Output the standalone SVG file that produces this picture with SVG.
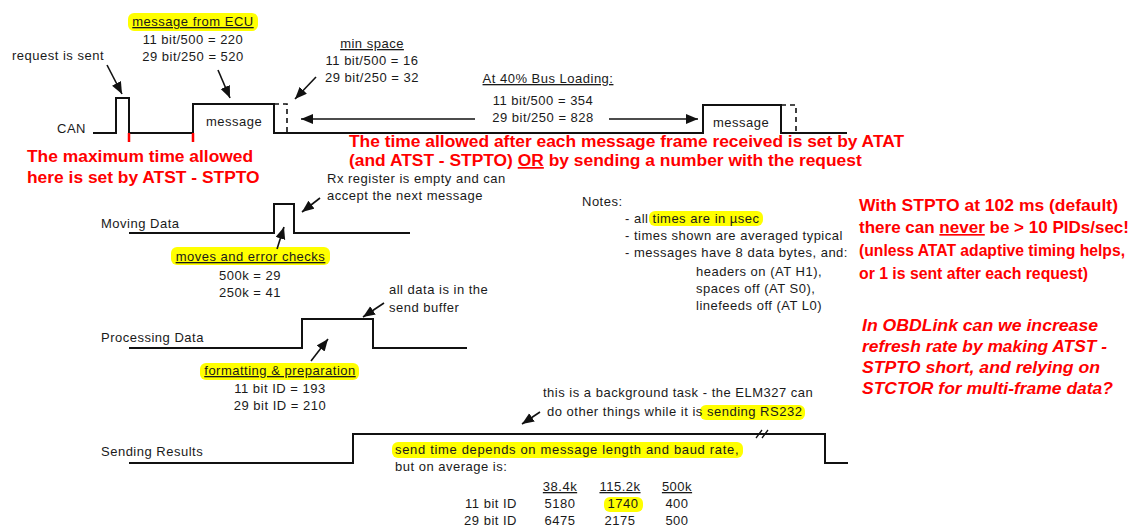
<svg xmlns="http://www.w3.org/2000/svg" width="1136" height="526" viewBox="0 0 1136 526">
<defs>
<marker id="ah" markerUnits="userSpaceOnUse" markerWidth="14" markerHeight="12" refX="12" refY="5" orient="auto">
<path d="M0,0 L12,5 L0,10 z" fill="#111"/>
</marker>
<style>
.t{font-family:"Liberation Sans",Arial,sans-serif;font-size:13px;letter-spacing:0.5px;fill:#1a1a1a}
.m{text-anchor:middle}
.u{text-decoration:underline}
.r{font-family:"Liberation Sans",Arial,sans-serif;font-size:17.4px;font-weight:bold;fill:#ff0000}
.rs{font-size:16.4px}
.ri{font-style:italic}
.w{fill:none;stroke:#111;stroke-width:2}
.d{fill:none;stroke:#111;stroke-width:1.6;stroke-dasharray:5,4}
.hl{fill:#ffff00}
.a{stroke:#111;stroke-width:1.6;fill:none;marker-end:url(#ah)}
.tick{stroke:#ff0000;stroke-width:2.5}
</style>
</defs>
<rect width="1136" height="526" fill="#ffffff"/>

<g id="can">
<text class="t" x="57" y="133">CAN</text>
<polyline class="w" points="93,133 116,133 116,98 129,98 129,133 193,133 193,104 274,104 274,133 703,133 703,105 781,105 781,133 847,133"/>
<polyline class="d" points="274,104 287,104 287,133"/>
<polyline class="d" points="781,105 796,105 796,133"/>
<text class="t" x="206" y="126">message</text>
<text class="t" x="713" y="127">message</text>
<line class="tick" x1="129" y1="133" x2="129" y2="142"/>
<line class="tick" x1="193" y1="133" x2="193" y2="142"/>
</g>

<g id="request-label">
<text class="t" x="12" y="60">request is sent</text>
</g>

<g id="message-from-ecu">
<rect class="hl" x="128" y="13" width="130" height="18" rx="6"/>
<text class="t m u" x="193" y="26">message from ECU</text>
<text class="t m" x="193" y="44">11 bit/500 = 220</text>
<text class="t m" x="193" y="61">29 bit/250 = 520</text>
</g>

<g id="min-space">
<text class="t m u" x="372" y="48">min space</text>
<text class="t m" x="372" y="65">11 bit/500 = 16</text>
<text class="t m" x="372" y="82">29 bit/250 = 32</text>
</g>

<g id="bus-loading">
<text class="t m u" x="548" y="83">At 40% Bus Loading:</text>
<text class="t m" x="543" y="105">11 bit/500 = 354</text>
<text class="t m" x="543" y="122">29 bit/250 = 828</text>
</g>

<g id="red-max-time">
<text class="r" x="27" y="162">The maximum time allowed</text>
<text class="r" x="27" y="183">here is set by ATST - STPTO</text>
</g>

<g id="red-time-allowed">
<text class="r" x="349" y="147">The time allowed after each message frame received is set by ATAT</text>
<text class="r" x="349" y="166">(and ATST - STPTO) <tspan class="u">OR</tspan> by sending a number with the request</text>
</g>

<g id="rx-register">
<text class="t" x="327" y="183">Rx register is empty and can</text>
<text class="t" x="327" y="200">accept the next message</text>
</g>

<g id="moving-data">
<text class="t" x="101" y="228">Moving Data</text>
<polyline class="w" points="129,233 274,233 274,204 294,204 294,233 410,233"/>
</g>

<g id="moves-errors">
<rect class="hl" x="171" y="247" width="159" height="18" rx="6"/>
<text class="t m u" x="250.5" y="261">moves and error checks</text>
<text class="t m" x="250" y="280">500k = 29</text>
<text class="t m" x="250" y="297">250k = 41</text>
</g>

<g id="all-data">
<text class="t" x="389" y="294">all data is in the</text>
<text class="t" x="389" y="312">send buffer</text>
</g>

<g id="processing-data">
<text class="t" x="101" y="342">Processing Data</text>
<polyline class="w" points="129,348 302,348 302,319 373,319 373,348 467,348"/>
</g>

<g id="formatting">
<rect class="hl" x="200" y="363" width="159" height="17" rx="6"/>
<text class="t m u" x="280" y="375">formatting &amp; preparation</text>
<text class="t m" x="280" y="393">11 bit ID = 193</text>
<text class="t m" x="280" y="410">29 bit ID = 210</text>
</g>

<g id="notes">
<text class="t" x="582" y="206">Notes:</text>
<rect class="hl" x="649" y="211" width="114" height="15" rx="6"/>
<text class="t" x="625" y="223">- all times are in µsec</text>
<text class="t" x="625" y="240">- times shown are averaged typical</text>
<text class="t" x="625" y="257">- messages have 8 data bytes, and:</text>
<text class="t" x="696" y="276">headers on (AT H1),</text>
<text class="t" x="696" y="293">spaces off (AT S0),</text>
<text class="t" x="696" y="310">linefeeds off (AT L0)</text>
</g>

<g id="red-stpto">
<text class="r rs" x="859" y="211" textLength="259" lengthAdjust="spacingAndGlyphs">With STPTO at 102 ms (default)</text>
<text class="r rs" x="859" y="233" textLength="270" lengthAdjust="spacingAndGlyphs">there can <tspan class="u">never</tspan> be &gt; 10 PIDs/sec!</text>
<text class="r rs" x="859" y="256" textLength="266" lengthAdjust="spacingAndGlyphs">(unless ATAT adaptive timing helps,</text>
<text class="r rs" x="859" y="279" textLength="229" lengthAdjust="spacingAndGlyphs">or 1 is sent after each request)</text>
</g>

<g id="red-obdlink">
<text class="r ri" x="862" y="331" textLength="236" lengthAdjust="spacingAndGlyphs">In OBDLink can we increase</text>
<text class="r ri" x="862" y="352" textLength="245" lengthAdjust="spacingAndGlyphs">refresh rate by making ATST -</text>
<text class="r ri" x="862" y="373" textLength="238" lengthAdjust="spacingAndGlyphs">STPTO short, and relying on</text>
<text class="r ri" x="862" y="394" textLength="251" lengthAdjust="spacingAndGlyphs">STCTOR for multi-frame data?</text>
</g>

<g id="background-task">
<rect class="hl" x="700" y="405" width="105" height="15" rx="6"/>
<text class="t" x="543" y="397">this is a background task - the ELM327 can</text>
<text class="t" x="547" y="416">do other things while it is sending RS232</text>
</g>

<g id="sending-results">
<text class="t" x="101" y="456">Sending Results</text>
<polyline class="w" points="129,463 353,463 353,434 825,434 825,463 848,463"/>
<line x1="756" y1="438" x2="762" y2="430" stroke="#111" stroke-width="1.3"/>
<line x1="762" y1="438" x2="768" y2="430" stroke="#111" stroke-width="1.3"/>
</g>

<g id="send-time">
<rect class="hl" x="392" y="442" width="351" height="16" rx="6"/>
<text class="t" x="395" y="454" textLength="344">send time depends on message length and baud rate,</text>
<text class="t" x="395" y="471">but on average is:</text>
<text class="t m u" x="560" y="491">38.4k</text>
<text class="t m u" x="620" y="491">115.2k</text>
<text class="t m u" x="677" y="491">500k</text>
<rect class="hl" x="604" y="497" width="39" height="15" rx="6"/>
<text class="t" x="517" y="508" text-anchor="end">11 bit ID</text>
<text class="t m" x="560" y="508">5180</text>
<text class="t m" x="623" y="508">1740</text>
<text class="t m" x="677" y="508">400</text>
<text class="t" x="517" y="525" text-anchor="end">29 bit ID</text>
<text class="t m" x="560" y="525">6475</text>
<text class="t m" x="620" y="525">2175</text>
<text class="t m" x="677" y="525">500</text>
</g>

<g id="connectors">
<line class="a" x1="107" y1="65" x2="122" y2="94"/>
<line class="a" x1="218" y1="70" x2="230" y2="98"/>
<line class="a" x1="316" y1="77" x2="295" y2="99"/>
<line class="a" x1="475" y1="119" x2="301" y2="119"/>
<line class="a" x1="609" y1="119" x2="698" y2="119"/>
<line class="a" x1="320" y1="198" x2="302" y2="212"/>
<line class="a" x1="277" y1="249" x2="284" y2="227"/>
<line class="a" x1="384" y1="303" x2="363" y2="317"/>
<line class="a" x1="311" y1="361" x2="328" y2="339"/>
<line class="a" x1="540" y1="412" x2="522" y2="424"/>
</g>
</svg>
